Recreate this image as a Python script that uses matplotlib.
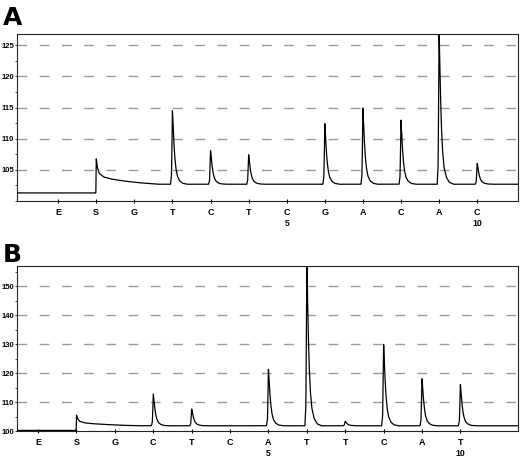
import numpy as np
import matplotlib.pyplot as plt
from matplotlib.transforms import blended_transform_factory

plt.rcParams["font.family"] = ["Liberation Sans", "DejaVu Sans"]

# dispensation order and peak readings (signal units), None = no peak
disp_a = ["E", "S", "G", "T", "C", "T", "C", "G", "A", "C", "A", "C"]
peaks_a = [None, 106.8, None, 114.5, 108.2, 107.5, None, 112.5, 115.0, 113.0, 127.5, 106.1]
base_a_pre, base_a_post = 101.3, 102.7
yticks_a = [105, 110, 115, 120, 125]

disp_b = ["E", "S", "G", "C", "T", "C", "A", "T", "T", "C", "A", "T"]
peaks_b = [None, 105.5, None, 112.8, 107.6, None, 121.4, 158.0, 103.4, 130.3, 118.3, 116.2]
base_b_pre, base_b_post = 100.2, 101.8
yticks_b = [100, 110, 120, 130, 140, 150]

# numbering under the sequence (position index -> label)
seq_num = {6: "5", 11: "10"}

# peak shape template (offset from dispensation, fraction of height)
shape_dx = [-0.05, -0.025, -0.01, 0.0, 0.015, 0.035, 0.06, 0.09, 0.13, 0.19, 0.27, 0.38]
shape_fr = [0.0, 0.12, 0.55, 1.0, 0.85, 0.6, 0.38, 0.22, 0.11, 0.045, 0.012, 0.0]
# substrate (S) peak has a long tail
s_dx = [-0.01, 0.0, 0.03, 0.08, 0.2, 0.4, 0.7, 1.1, 1.6]
s_fr = [0.0, 1.0, 0.65, 0.42, 0.28, 0.2, 0.13, 0.06, 0.0]


def trace(peaks, pre, post, x):
    y = np.where(x < 1, pre, post).astype(float)
    for i, h in enumerate(peaks):
        if h is None:
            continue
        if i == 1:
            y += (h - post) * np.interp(x - i, s_dx, s_fr, left=0, right=0)
        else:
            y += (h - post) * np.interp(x - i, shape_dx, shape_fr, left=0, right=0)
    return y


fig = plt.figure(figsize=(5.2, 4.59), dpi=100)
ax_a = fig.add_axes([0.0327, 0.562, 0.9633, 0.364])
ax_b = fig.add_axes([0.0327, 0.061, 0.9633, 0.3595])

panels = [
    (ax_a, "A", disp_a, peaks_a, base_a_pre, base_a_post, yticks_a, (101.0, 126.8), (-1.08, 12.07), 2.5, 1.17),
    (ax_b, "B", disp_b, peaks_b, base_b_pre, base_b_post, yticks_b, (100.0, 156.9), (-0.55, 12.5), 5, 1.14),
]

for ax, letter, disp, peaks, pre, post, yt, ylim, xlim, minor, ly in panels:
    x = np.linspace(xlim[0], xlim[1], 5000)
    for v in yt:
        if v > ylim[0]:
            ax.axhline(v, color="#9a9a9a", lw=1.0, dashes=(7, 9), zorder=1)
    ax.plot(x, trace(peaks, pre, post, x), color="black", lw=0.9, zorder=3)
    ax.set_xlim(*xlim)
    ax.set_ylim(*ylim)
    ax.set_yticks(yt)
    ax.set_yticks(np.arange(ylim[0] // minor * minor, ylim[1], minor), minor=True)
    ax.set_yticklabels([str(v) for v in yt], fontsize=5.5, fontweight="bold")
    ax.set_xticks(range(len(disp)))
    ax.set_xticklabels(disp, fontsize=6.5, fontweight="bold")
    ax.tick_params(axis="y", length=1.5, width=0.6, pad=0.5)
    ax.tick_params(axis="y", which="minor", length=1.2, width=0.5)
    ax.tick_params(axis="x", length=2.5, width=0.8, direction="inout", pad=3.5)
    for sp in ax.spines.values():
        sp.set_linewidth(0.8)
        sp.set_color("#222222")
    tr = blended_transform_factory(ax.transData, ax.transAxes)
    for i, s in seq_num.items():
        ax.text(i, -0.11, s, transform=tr, ha="center", va="top",
                fontsize=6.2, fontweight="bold")
    ax.text(-0.028, ly, letter, transform=ax.transAxes, ha="left", va="top",
            fontsize=18, fontweight="bold", family="DejaVu Sans")

fig.savefig("out.png", dpi=100)
